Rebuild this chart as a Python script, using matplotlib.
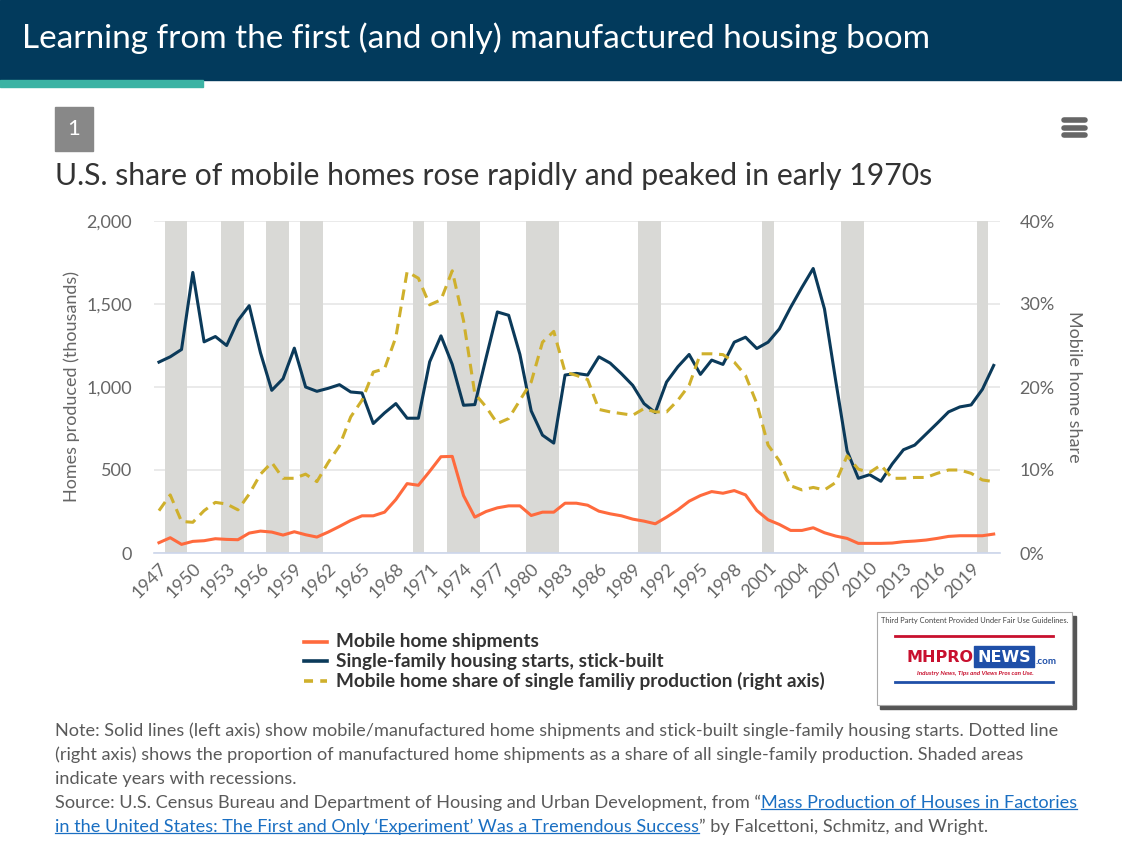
import numpy as np
import matplotlib.pyplot as plt
from matplotlib.patches import Rectangle
from matplotlib.lines import Line2D

plt.rcParams['font.family'] = ['Lato', 'DejaVu Sans']

## Data
years = list(range(1947, 2022))

stick_built = [1150, 1182, 1226, 1690, 1272, 1304, 1250, 1400, 1490, 1206,
               980, 1050, 1234, 1000, 974, 992, 1014, 970, 964, 780,
               844, 900, 812, 812, 1152, 1308, 1136, 890, 894, 1176,
               1452, 1432, 1196, 856, 710, 662, 1072, 1082, 1072, 1182,
               1144, 1080, 1010, 900, 846, 1030, 1122, 1196, 1076, 1162,
               1136, 1270, 1300, 1232, 1270, 1350, 1480, 1600, 1714, 1470,
               1036, 616, 450, 472, 432, 536, 622, 650, 716, 782,
               850, 880, 892, 986, 1130]

mobile_shipments = [62, 92, 52, 70, 74, 86, 82, 80, 120, 132,
                    126, 108, 128, 110, 96, 126, 160, 196, 224, 224,
                    246, 322, 418, 408, 492, 580, 582, 346, 216, 250,
                    272, 284, 284, 226, 246, 246, 300, 300, 288, 252,
                    236, 224, 204, 192, 176, 216, 260, 312, 346, 370,
                    360, 376, 350, 256, 200, 172, 136, 136, 152, 122,
                    102, 88, 58, 58, 58, 60, 68, 72, 78, 88,
                    100, 104, 104, 104, 114]

mobile_share = [5.1, 7.0, 3.8, 3.7, 5.1, 6.1, 5.9, 5.2, 7.1, 9.5,
                10.9, 9.0, 9.0, 9.5, 8.6, 10.9, 12.9, 16.4, 18.4, 21.8,
                22.2, 26.0, 33.9, 33.1, 29.9, 30.5, 34.0, 28.0, 19.2, 17.6,
                15.6, 16.2, 18.4, 20.6, 25.4, 26.7, 21.8, 21.4, 20.9, 17.3,
                17.0, 16.8, 16.6, 17.4, 17.0, 17.0, 18.4, 20.2, 24.0, 24.0,
                23.9, 23.0, 21.4, 18.0, 13.0, 11.1, 8.1, 7.6, 7.9, 7.6,
                8.5, 11.7, 10.1, 9.7, 10.6, 9.0, 9.0, 9.1, 9.1, 9.6,
                10.0, 10.0, 9.6, 8.8, 8.6]

recession_years = [1948, 1949, 1953, 1954, 1957, 1958, 1960, 1961, 1970,
                   1973, 1974, 1975, 1980, 1981, 1982, 1990, 1991, 2001,
                   2008, 2009, 2020]

x_ticks = list(range(1947, 2020, 3))
left_ticks = [0, 500, 1000, 1500, 2000]
right_ticks = [0, 10, 20, 30, 40]

legend_labels = ['Mobile home shipments',
                 'Single-family housing starts, stick-built',
                 'Mobile home share of single familiy production (right axis)']

NAVY = '#0b3a5a'
ORANGE = '#ff6a3d'
GOLD = '#cfb02c'
GRAY_TXT = '#666666'

W, H = 1122, 868
fig = plt.figure(figsize=(W / 100, H / 100), dpi=100)


def px(x, y):
    return x / W, 1 - y / H


## Header band
fig.patches.append(Rectangle(px(0, 80), 1, 80 / H, transform=fig.transFigure,
                             color='#023a5c', zorder=0))
fig.patches.append(Rectangle(px(0, 87), 203 / W, 7 / H, transform=fig.transFigure,
                             color='#3bb3a4', zorder=0))
fig.text(*px(22, 38), 'Learning from the first (and only) manufactured housing boom',
         color='white', fontsize=24, va='center', ha='left')

## Chart number box and menu icon
fig.patches.append(Rectangle(px(55, 151), 38 / W, 44 / H, transform=fig.transFigure,
                             color='#888888'))
fig.text(*px(74, 129), '1', color='white', fontsize=16, ha='center', va='center')
for yy in (120, 127.5, 135):
    fig.add_artist(Line2D([1064 / W, 1085 / W], [1 - yy / H] * 2, color='#666666',
                          lw=4, solid_capstyle='round', transform=fig.transFigure))

fig.text(*px(55, 176), 'U.S. share of mobile homes rose rapidly and peaked in early 1970s',
         color='#333333', fontsize=21.7, va='center', ha='left')

## Main axes
ax = fig.add_axes([154 / W, 1 - 553 / H, 846 / W, 332 / H])
ax2 = ax.twinx()

for yr in recession_years:
    ax.axvspan(yr - 0.5, yr + 0.5, color='#d9d9d6', lw=0, zorder=1)

ax.plot(years, mobile_shipments, color=ORANGE, lw=2.2, zorder=3)
ax.plot(years, stick_built, color=NAVY, lw=2.2, zorder=3)
ax2.plot(years, mobile_share, color=GOLD, lw=2.2, dashes=(3.5, 2.2), zorder=3)

ax.set_xlim(1946.56, 2021.56)
ax.set_ylim(0, 2000)
ax2.set_ylim(0, 40)

ax.set_yticks(left_ticks)
ax.set_yticklabels([f'{v:,}' for v in left_ticks])
ax2.set_yticks(right_ticks)
ax2.set_yticklabels([f'{v}%' for v in right_ticks])
ax.set_xticks(x_ticks)
ax.set_xticklabels([str(v) for v in x_ticks], rotation=45, ha='right',
                   rotation_mode='anchor')

ax.set_axisbelow(True)
ax.grid(axis='y', color='#e6e6e6', lw=1.2, zorder=0)
for a in (ax, ax2):
    for s in a.spines.values():
        s.set_visible(False)
ax.spines['bottom'].set_visible(True)
ax.spines['bottom'].set_color('#ccd6eb')
ax.spines['bottom'].set_linewidth(1.2)

ax.tick_params(axis='y', length=0, pad=16, labelsize=13, labelcolor=GRAY_TXT)
ax.tick_params(axis='x', length=0, pad=5, labelsize=13, labelcolor=GRAY_TXT)
ax2.tick_params(axis='y', length=0, pad=14, labelsize=13, labelcolor=GRAY_TXT)

ax.set_ylabel('Homes produced (thousands)', fontsize=13, color=GRAY_TXT, labelpad=4)
ax2.set_ylabel('Mobile home share', fontsize=13, color=GRAY_TXT, rotation=270,
               labelpad=20)

## Legend (drawn by hand to match the centred block)
leg_y = [642, 661, 681]
leg_styles = [dict(color=ORANGE), dict(color=NAVY), dict(color=GOLD, dashes=(2.5, 2))]
for yy, lab, st in zip(leg_y, legend_labels, leg_styles):
    fig.add_artist(Line2D([304 / W, 327 / W], [1 - yy / H] * 2, lw=2.6,
                          transform=fig.transFigure, **st))
    fig.text(*px(336, yy), lab, fontsize=13.7, fontweight='bold', color='#333333',
             va='center', ha='left')

## Logo placeholder (MHProNews badge)
fig.patches.append(Rectangle(px(880, 709), 196 / W, 93 / H, transform=fig.transFigure,
                             color='#555555', zorder=2))
fig.patches.append(Rectangle(px(877, 705), 195 / W, 93 / H, transform=fig.transFigure,
                             facecolor='white', edgecolor='#aaaaaa', lw=0.8, zorder=3))
fig.text(*px(975, 620), 'Third Party Content Provided Under Fair Use Guidelines.',
         fontsize=5.4, color='#444444', ha='center', va='center', zorder=4)
fig.add_artist(Line2D([895 / W, 1053 / W], [1 - 636 / H] * 2, color='#c8102e', lw=2,
                      transform=fig.transFigure, zorder=4))
fig.add_artist(Line2D([895 / W, 1053 / W], [1 - 682 / H] * 2, color='#1f4fa8', lw=2,
                      transform=fig.transFigure, zorder=4))
fig.text(*px(973, 657), 'MHPRO', fontsize=11.5, fontweight='bold', color='#c8102e',
         ha='right', va='center', zorder=4, family='DejaVu Sans')
fig.patches.append(Rectangle(px(974, 667), 60 / W, 21 / H, transform=fig.transFigure,
                             color='#1f4fa8', zorder=4))
fig.text(*px(1004, 657), 'NEWS', fontsize=11.5, fontweight='bold', color='white',
         ha='center', va='center', zorder=5, family='DejaVu Sans')
fig.text(*px(1036, 661), '.com', fontsize=7, fontweight='bold', color='#1f4fa8',
         ha='left', va='center', zorder=4)
fig.text(*px(975, 674), 'Industry News, Tips and Views Pros can Use.', fontsize=4.5,
         style='italic', fontweight='bold', color='#c8102e', ha='center', va='center',
         zorder=4)

## Notes and source
NOTE_C = '#5a5a5a'
LINK_C = '#1a6fc2'
fs_note = 13.1
note_lines = [
    'Note: Solid lines (left axis) show mobile/manufactured home shipments and stick-built single-family housing starts. Dotted line',
    '(right axis) shows the proportion of manufactured home shipments as a share of all single-family production. Shaded areas',
    'indicate years with recessions.',
]
for i, line in enumerate(note_lines):
    fig.text(*px(55, 731 + i * 24), line, fontsize=fs_note, color=NOTE_C,
             va='center', ha='left')

fig.canvas.draw()
renderer = fig.canvas.get_renderer()


def put_run(x, y, parts):
    # write consecutive text pieces on one line, underlining the links
    for txt, col, link in parts:
        t = fig.text(x / W, 1 - y / H, txt, fontsize=fs_note, color=col,
                     va='center', ha='left')
        bb = t.get_window_extent(renderer)
        if link:
            fig.add_artist(Line2D([bb.x0 / W, bb.x1 / W],
                                  [(bb.y0 + 2) / H] * 2, color=col, lw=0.9,
                                  transform=fig.transFigure))
        x = bb.x1


put_run(55, 803, [
    ('Source: U.S. Census Bureau and Department of Housing and Urban Development, from \u201c', NOTE_C, False),
    ('Mass Production of Houses in Factories', LINK_C, True),
])
put_run(55, 827, [
    ('in the United States: The First and Only \u2018Experiment\u2019 Was a Tremendous Success', LINK_C, True),
    ('\u201d by Falcettoni, Schmitz, and Wright.', NOTE_C, False),
])

fig.savefig('out.png', dpi=100)
